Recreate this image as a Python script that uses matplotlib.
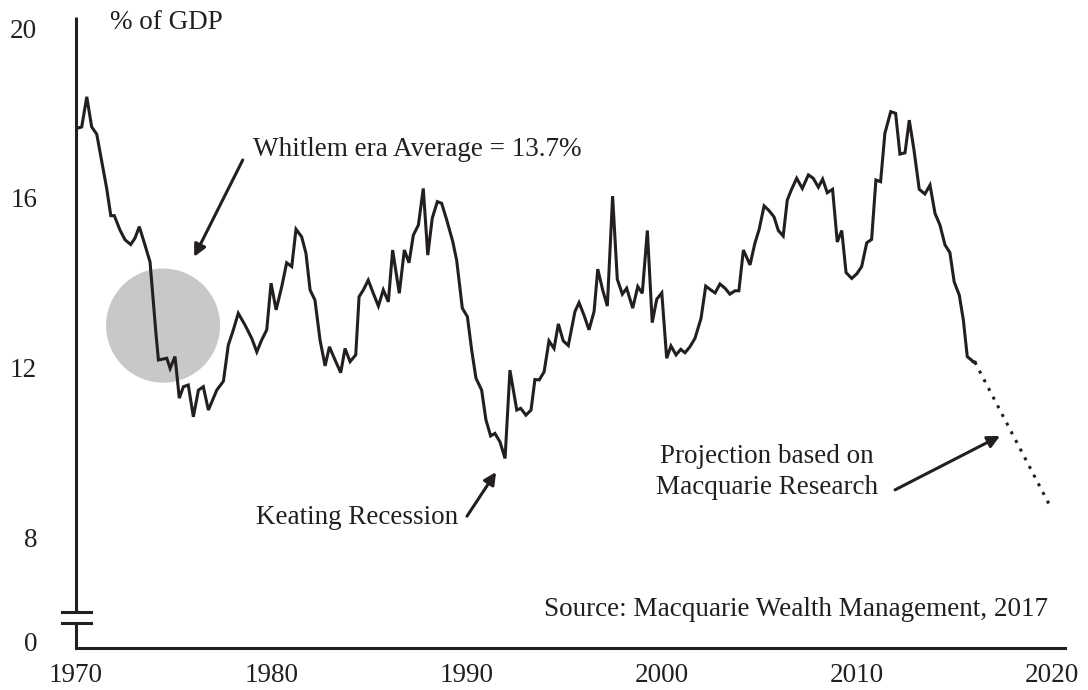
import matplotlib.pyplot as plt
from matplotlib.patches import Ellipse

# traced series: year, % of GDP
years = [1970.07, 1970.29, 1970.55, 1970.80, 1971.06, 1971.32, 1971.57, 1971.78, 1971.96, 1972.25,
         1972.51, 1972.80, 1973.02, 1973.24, 1973.53, 1973.79, 1973.96, 1974.10, 1974.22, 1974.44,
         1974.65, 1974.82, 1975.07, 1975.29, 1975.50, 1975.75, 1976.01, 1976.27, 1976.52, 1976.78,
         1977.21, 1977.55, 1977.80, 1978.06, 1978.31, 1978.66, 1979.00, 1979.26, 1979.51, 1979.77,
         1979.99, 1980.25, 1980.54, 1980.79, 1981.05, 1981.27, 1981.56, 1981.78, 1981.99, 1982.24,
         1982.50, 1982.76, 1982.98, 1983.27, 1983.56, 1983.78, 1984.04, 1984.33, 1984.50, 1984.72,
         1984.97, 1985.23, 1985.49, 1985.74, 1986.00, 1986.22, 1986.56, 1986.82, 1987.06, 1987.28,
         1987.54, 1987.79, 1988.02, 1988.25, 1988.51, 1988.73, 1988.99, 1989.30, 1989.50, 1989.79,
         1990.05, 1990.27, 1990.49, 1990.78, 1991.00, 1991.24, 1991.46, 1991.72, 1991.98, 1992.23,
         1992.58, 1992.78, 1993.05, 1993.31, 1993.51, 1993.73, 1993.98, 1994.23, 1994.49, 1994.71,
         1994.96, 1995.22, 1995.56, 1995.77, 1996.02, 1996.28, 1996.54, 1996.73, 1996.98, 1997.22,
         1997.49, 1997.73, 1997.99, 1998.21, 1998.52, 1998.78, 1999.01, 1999.27, 1999.52, 1999.75,
         2000.01, 2000.26, 2000.48, 2000.74, 2000.98, 2001.20, 2001.45, 2001.71, 2002.02, 2002.26,
         2002.52, 2002.74, 2002.99, 2003.25, 2003.50, 2003.76, 2003.96, 2004.19, 2004.53, 2004.78,
         2005.00, 2005.25, 2005.50, 2005.76, 2005.98, 2006.23, 2006.44, 2006.66, 2006.92, 2007.21,
         2007.52, 2007.77, 2008.03, 2008.25, 2008.49, 2008.76, 2009.00, 2009.23, 2009.45, 2009.74,
         2010.00, 2010.25, 2010.51, 2010.76, 2010.98, 2011.22, 2011.44, 2011.74, 2011.99, 2012.21,
         2012.47, 2012.69, 2012.93, 2013.20, 2013.49, 2013.75, 2014.01, 2014.26, 2014.52, 2014.77,
         2014.99, 2015.25, 2015.46, 2015.66, 2015.97]
values = [17.64, 17.67, 18.38, 17.67, 17.50, 16.85, 16.22, 15.58, 15.58, 15.24,
          15.01, 14.90, 15.05, 15.32, 14.89, 14.49, 13.55, 12.77, 12.18, 12.20,
          12.22, 11.98, 12.26, 11.28, 11.55, 11.59, 10.84, 11.47, 11.55, 11.00,
          11.47, 11.68, 12.53, 12.89, 13.28, 13.00, 12.69, 12.37, 12.65, 12.89,
          13.99, 13.36, 13.91, 14.47, 14.38, 15.26, 15.08, 14.69, 13.83, 13.59,
          12.65, 12.04, 12.49, 12.18, 11.88, 12.45, 12.14, 12.30, 13.67, 13.83,
          14.06, 13.75, 13.45, 13.83, 13.55, 14.77, 13.75, 14.77, 14.47, 15.12,
          15.36, 16.22, 14.65, 15.52, 15.91, 15.87, 15.48, 14.97, 14.53, 13.40,
          13.20, 12.41, 11.75, 11.47, 10.77, 10.39, 10.45, 10.25, 9.86, 11.94,
          11.00, 11.04, 10.88, 11.00, 11.72, 11.71, 11.90, 12.63, 12.45, 13.03,
          12.63, 12.52, 13.32, 13.53, 13.24, 12.89, 13.32, 14.32, 13.83, 13.45,
          16.04, 14.08, 13.73, 13.87, 13.40, 13.91, 13.75, 15.23, 13.06, 13.61,
          13.76, 12.22, 12.51, 12.30, 12.43, 12.35, 12.49, 12.69, 13.16, 13.92,
          13.83, 13.76, 13.97, 13.87, 13.73, 13.81, 13.81, 14.77, 14.42, 14.93,
          15.26, 15.81, 15.70, 15.55, 15.23, 15.10, 15.95, 16.20, 16.46, 16.22,
          16.54, 16.46, 16.25, 16.44, 16.12, 16.20, 14.96, 15.23, 14.24, 14.10,
          14.21, 14.38, 14.94, 15.02, 16.42, 16.38, 17.52, 18.03, 17.99, 17.03,
          17.06, 17.83, 17.13, 16.20, 16.09, 16.30, 15.63, 15.36, 14.89, 14.71,
          14.02, 13.71, 13.12, 12.26, 12.14]

proj_years = [2016.05, 2019.90]
proj_values = [12.13, 8.74]

ytick_pos = [5.54, 8, 12, 16, 20]
ytick_labels = ["0", "8", "12", "16", "20"]
xtick_pos = [1970, 1980, 1990, 2000, 2010, 2020]

INK = "#231f20"
FS = 19.5
plt.rcParams["font.family"] = ["Liberation Serif", "DejaVu Serif"]

fig = plt.figure(figsize=(10.88, 6.90), dpi=100)
ax = fig.add_axes([0.0699, 0.0609, 0.909, 0.9145])

ax.set_xlim(1970, 2020.67)
ax.set_ylim(5.395, 20.26)

# average circle
ax.add_patch(Ellipse((1974.46, 12.99), 5.84, 2.69, facecolor="#c8c8c8", edgecolor="none", zorder=1))

ax.plot(years, values, color=INK, lw=2.2, zorder=3, solid_joinstyle="miter")
ax.plot([years[-1], proj_years[0]], [values[-1], proj_values[0]], color=INK, lw=2.2, zorder=3)
ax.plot(proj_years, proj_values, color=INK, lw=2.2, ls=(0, (1, 2.2)), zorder=3)

# spines: bottom plain, left with a break
for s in ["top", "right", "left"]:
    ax.spines[s].set_visible(False)
ax.spines["bottom"].set_linewidth(2.2)
ax.spines["bottom"].set_color(INK)
tr = ax.get_yaxis_transform()
ax.plot([0, 0], [6.243, 20.26], transform=tr, color=INK, lw=2.2, clip_on=False, solid_capstyle="butt")
ax.plot([0, 0], [5.395, 5.983], transform=tr, color=INK, lw=2.2, clip_on=False, solid_capstyle="butt")
for yb in [6.243, 5.983]:
    ax.plot([-0.0142, 0.0152], [yb, yb], transform=tr, color=INK, lw=2.2, clip_on=False)

ax.set_xticks(xtick_pos)
ax.set_yticks(ytick_pos)
ax.set_yticklabels(ytick_labels)
ax.tick_params(axis="both", length=0, labelsize=FS, colors=INK)
ax.tick_params(axis="y", pad=28)
ax.tick_params(axis="x", pad=11)

ax.text(1971.74, 20.12, "% of GDP", fontsize=FS, color=INK, va="center", ha="left", clip_on=False)

ax.annotate("", xy=(1976.05, 14.61), xytext=(1978.54, 16.89),
            arrowprops=dict(arrowstyle="-|>", lw=2.2, color=INK, mutation_scale=18, shrinkA=0, shrinkB=0))
ax.text(1979.07, 17.13, "Whitlem era Average = 13.7%", fontsize=FS, color=INK, va="center", ha="left")

ax.annotate("", xy=(1991.52, 9.54), xytext=(1990.03, 8.50),
            arrowprops=dict(arrowstyle="-|>", lw=2.2, color=INK, mutation_scale=18, shrinkA=0, shrinkB=0))
ax.text(1989.55, 8.48, "Keating Recession", fontsize=FS, color=INK, va="center", ha="right")

ax.annotate("", xy=(2017.34, 10.39), xytext=(2011.96, 9.12),
            arrowprops=dict(arrowstyle="-|>", lw=2.2, color=INK, mutation_scale=18, shrinkA=0, shrinkB=0))
ax.text(2005.40, 9.54, "Projection based on\nMacquarie Research", fontsize=FS, color=INK,
        va="center", ha="center", linespacing=1.3)

ax.text(2019.80, 6.29, "Source: Macquarie Wealth Management, 2017", fontsize=FS, color=INK,
        va="center", ha="right")

fig.savefig("out.png", dpi=100)
